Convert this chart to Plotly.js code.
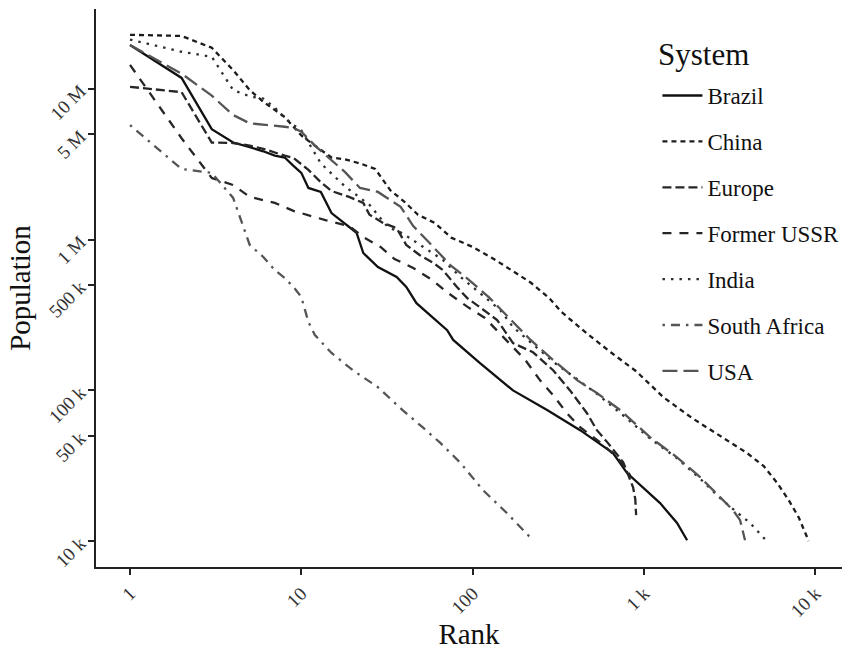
<!DOCTYPE html>
<html>
<head>
<meta charset="utf-8">
<script src="https://cdn.plot.ly/plotly-3.0.1.min.js"></script>
<style>html,body{margin:0;padding:0;background:#fff;}#chart{width:846px;height:650px;}</style>
</head>
<body>
<div id="chart"></div>
<script>
// ---- data (rank vs population) ----
const seriesNames = ['Brazil', 'China', 'Europe', 'Former USSR', 'India', 'South Africa', 'USA'];
const legendTitle = 'System';

const brazilRank = [1,2,3,4,5,6,7,8,9,10,11,13,15,21,23,28,36,41,47,71,77,110,172,272,424,660,797,1242,1560,1786];
const brazilPop  = [19.5e6,11.8e6,5.4e6,4.4e6,4.1e6,3.85e6,3.6e6,3.5e6,3.08e6,2.77e6,2.2e6,2.07e6,1.5e6,1.11e6,815e3,658e3,565e3,485e3,379e3,251e3,216e3,152e3,100e3,74e3,54.5e3,38.4e3,28.3e3,17.9e3,13.2e3,10.15e3];

const chinaRank = [1,2,3,4,5,6,8,10,12,15,18,22,27,30,33,40,48,60,75,100,130,175,220,280,330,470,640,900,1300,1910,3000,4000,5000,6000,7000,8000,9000,9120];
const chinaPop  = [22.8e6,22.4e6,18.7e6,13.3e6,9.8e6,8.2e6,6.5e6,4.9e6,4.2e6,3.5e6,3.4e6,3.2e6,2.94e6,2.5e6,2.13e6,1.78e6,1.46e6,1.29e6,1.03e6,893e3,755e3,610e3,515e3,409e3,331e3,236e3,179e3,134e3,90e3,65.5e3,47.5e3,38.4e3,31.5e3,24.3e3,18.7e3,14.4e3,10.5e3,10e3];

const europeRank = [1,2,3,4,5,6,8,9,11,13,15,19,23,25,30,36,41,49,59,67,81,93,110,139,172,225,295,370,465,531,610,757,864,890,900];
const europePop  = [10.3e6,9.5e6,4.4e6,4.37e6,4.2e6,4.0e6,3.6e6,3.48e6,2.9e6,2.4e6,2.1e6,1.92e6,1.75e6,1.46e6,1.29e6,1.19e6,921e3,790e3,700e3,628e3,485e3,409e3,357e3,293e3,206e3,179e3,136e3,100e3,70.6e3,54.5e3,45.4e3,33.4e3,22.8e3,19e3,14.9e3];

const ussrRank = [1,2,3,4,5,7,9,12,14,19,23,29,35,45,58,72,92,118,154,203,247,295,355,424,553,705,830];
const ussrPop  = [14.4e6,4.7e6,2.56e6,2.3e6,1.92e6,1.75e6,1.55e6,1.41e6,1.34e6,1.23e6,1.04e6,893e3,743e3,649e3,540e3,442e3,362e3,302e3,222e3,159e3,117e3,93e3,70.6e3,57e3,45.4e3,35.5e3,27.4e3];

const indiaRank = [1,2,3,4,5,6,7,8,9,10,13,16,18,25,32,39,67,85,145,172,295,531,797,1084,1560,2126,2785,3500,4170,5090];
const indiaPop  = [21.2e6,17.6e6,16.3e6,9.8e6,8.9e6,8.6e6,7.5e6,6.4e6,5.75e6,5.3e6,3.2e6,2.55e6,2.25e6,1.7e6,1.21e6,1.1e6,733e3,565e3,341e3,263e3,155e3,95e3,65e3,48e3,35.5e3,26e3,19.3e3,15.5e3,13.2e3,10.3e3];

const saRank = [1,2,3,4,5,6,7,8,9,10,11,12,15,20,28,39,51,65,85,115,159,225];
const saPop  = [5.75e6,2.94e6,2.77e6,1.89e6,921e3,767e3,628e3,556e3,485e3,416e3,284e3,233e3,177e3,136e3,105e3,74e3,57e3,44.7e3,33e3,21.8e3,15.3e3,10.15e3];

const usaRank = [1,2,3,4,5,6,8,9,10,12,18,22,28,38,45,59,74,97,126,172,218,295,407,531,727,1084,1560,2126,2785,3320,3640,3890];
const usaPop  = [19.5e6,12.6e6,9.0e6,6.7e6,5.9e6,5.8e6,5.6e6,5.5e6,5.2e6,4.2e6,2.8e6,2.2e6,2.07e6,1.65e6,1.23e6,893e3,678e3,531e3,409e3,284e3,216e3,159e3,117e3,96e3,74e3,49e3,36e3,26.6e3,19.6e3,16e3,13.8e3,10.15e3];

const xTickVals = [1,10,100,1000,10000];
const xTickText = ['1','10','100','1 k','10 k'];
const yTickVals = [1e4,5e4,1e5,5e5,1e6,5e6,1e7];
const yTickText = ['10 k','50 k','100 k','500 k','1 M','5 M','10 M'];

// ---- styles ----
const ranks = [brazilRank, chinaRank, europeRank, ussrRank, indiaRank, saRank, usaRank];
const pops  = [brazilPop, chinaPop, europePop, ussrPop, indiaPop, saPop, usaPop];
const dashes = ['solid', '5px,4px', '9px,4px', '9px,8px', '2.5px,6px', '2.5px,6px,9px,6px', '15px,6px'];
const colors = ['#111111', '#1c1c1c', '#262626', '#262626', '#2e2e2e', '#555555', '#555555'];

const FONT = 'Liberation Serif, Times New Roman, serif';

const traces = seriesNames.map((name, i) => ({
  type: 'scatter',
  mode: 'lines',
  name: name,
  legendgroup: name,
  x: ranks[i],
  y: pops[i],
  line: {color: colors[i], width: 2.3, dash: dashes[i]},
  hoverinfo: 'skip'
}));

const layout = {
  width: 846,
  height: 650,
  paper_bgcolor: '#ffffff',
  plot_bgcolor: '#ffffff',
  margin: {l: 96, r: 4, t: 9, b: 83, autoexpand: false},
  font: {family: FONT, color: '#111'},
  showlegend: true,
  legend: {
    x: 0.7526, y: 0.8834, xanchor: 'left', yanchor: 'top',
    bgcolor: 'rgba(0,0,0,0)',
    font: {family: FONT, size: 23, color: '#111'},
    traceorder: 'grouped',
    tracegroupgap: 13,
    itemwidth: 40
  },
  annotations: [{
    xref: 'paper', yref: 'paper', x: 0.750, y: 0.918,
    xanchor: 'left', yanchor: 'middle', showarrow: false,
    text: legendTitle,
    font: {family: FONT, size: 31, color: '#111'}
  }],
  xaxis: {
    type: 'log',
    range: [-0.1985, 4.156],
    tickvals: xTickVals,
    ticktext: xTickText,
    tickangle: -45,
    ticks: 'outside', ticklen: 6, tickwidth: 2, tickcolor: '#222',
    showline: true, linecolor: '#222', linewidth: 2,
    showgrid: false, zeroline: false,
    tickfont: {family: FONT, size: 19, color: '#333'},
    title: {text: 'Rank', font: {family: FONT, size: 29, color: '#111'}, standoff: 6},
    automargin: false
  },
  yaxis: {
    type: 'log',
    range: [3.829, 7.529],
    tickvals: yTickVals,
    ticktext: yTickText,
    tickangle: -45,
    ticklabelstandoff: 4,
    ticks: 'outside', ticklen: 6, tickwidth: 2, tickcolor: '#222',
    showline: true, linecolor: '#222', linewidth: 2,
    showgrid: false, zeroline: false,
    tickfont: {family: FONT, size: 19, color: '#333'},
    title: {text: 'Population', font: {family: FONT, size: 29, color: '#111'}, standoff: 6},
    automargin: false
  }
};

Plotly.newPlot('chart', traces, layout, {displayModeBar: false, staticPlot: true});
</script>
</body>
</html>
